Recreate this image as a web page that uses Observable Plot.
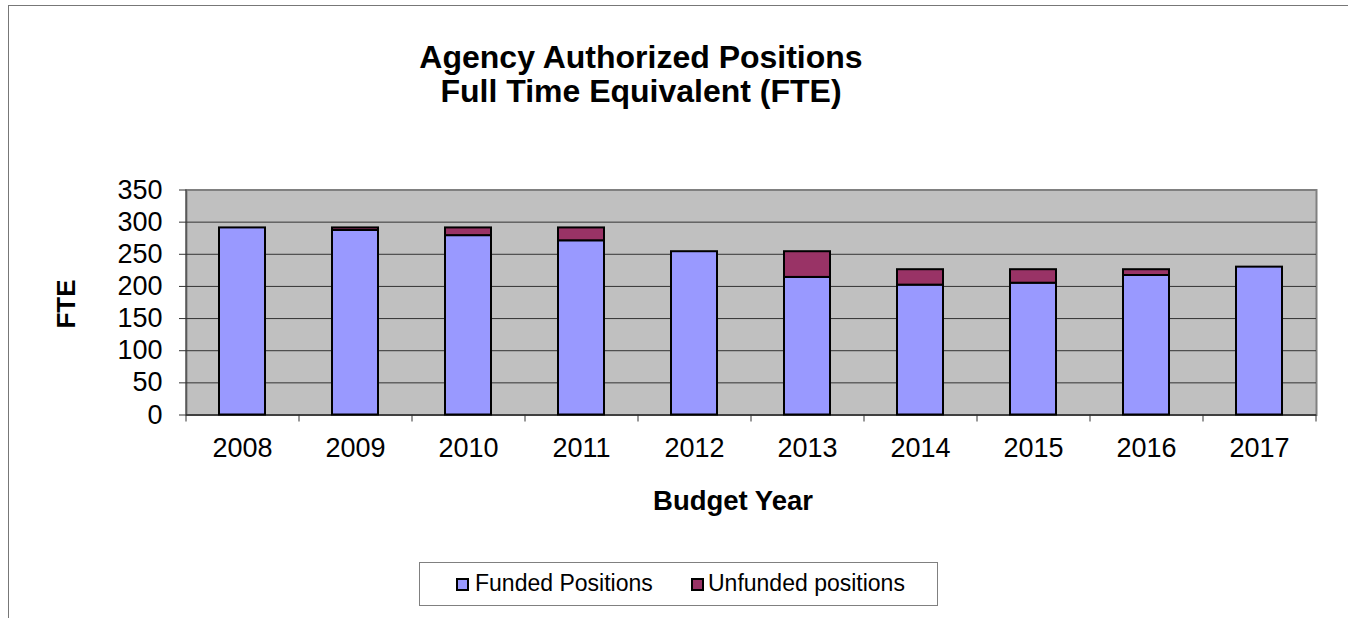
<!DOCTYPE html>
<html>
<head>
<meta charset="utf-8">
<script src="https://cdn.jsdelivr.net/npm/d3@7"></script>
<script src="https://cdn.jsdelivr.net/npm/@observablehq/plot@0.6"></script>
<style>
  html, body { margin: 0; padding: 0; background: #fff; overflow: hidden; }
  #wrap { position: relative; width: 1348px; height: 618px; font-family: "Liberation Sans", Arial, sans-serif; color: #000; }
  #wrap svg { position: absolute; left: 0; top: 0; }
  .t { position: absolute; line-height: 1; white-space: nowrap; }
  .outer { position: absolute; left: 8px; top: 5px; width: 1400px; height: 700px; border-left: 1px solid #777; border-top: 1px solid #777; }
  .legend { position: absolute; left: 419px; top: 562px; width: 517px; height: 42px; border: 1px solid #808080; background: #fff; }
  .sw { position: absolute; width: 13px; height: 13px; box-sizing: border-box; border: 2px solid #000; }
</style>
</head>
<body>
<div id="wrap">
  <div class="outer"></div>
</div>
<script>
const years = ["2008", "2009", "2010", "2011", "2012", "2013", "2014", "2015", "2016", "2017"];
const funded = [291, 287, 279, 271, 254, 214, 202, 205, 217, 230];
const unfunded = [0, 4, 12, 20, 0, 40, 24, 21, 9, 0];
const seriesNames = ["Funded Positions", "Unfunded positions"];
const seriesColors = ["#9999FF", "#993366"];
const yTicks = [0, 50, 100, 150, 200, 250, 300, 350];

const rows = [];
years.forEach((yr, i) => {
  rows.push({year: yr, series: seriesNames[0], value: funded[i]});
  if (unfunded[i] > 0) rows.push({year: yr, series: seriesNames[1], value: unfunded[i]});
});

const W = 1348, H = 618;
const mTop = 189.5, mBottom = 203.5, mLeft = 186, mRight = 32;
const band = (W - mLeft - mRight) / years.length;
const unitsPerPx = 350 / (H - mTop - mBottom);
const tickLen = 7 * unitsPerPx;

const plot = Plot.plot({
  width: W,
  height: H,
  marginTop: mTop,
  marginBottom: mBottom,
  marginLeft: mLeft,
  marginRight: mRight,
  style: {fontFamily: '"Liberation Sans", Arial, sans-serif', fontSize: "27px", color: "#000", background: "transparent"},
  x: {domain: years, paddingInner: 0.59, paddingOuter: 0.295, label: null},
  y: {domain: [0, 350], label: null},
  color: {domain: seriesNames, range: seriesColors},
  marks: [
    Plot.frame({fill: "#C0C0C0", stroke: "#808080", strokeWidth: 2}),
    Plot.gridY(yTicks.filter(d => d > 0 && d < 350), {stroke: "#333", strokeOpacity: 1, strokeWidth: 1}),
    Plot.barY(rows, Plot.stackY({x: "year", y: "value", fill: "series", order: seriesNames, stroke: "#000", strokeWidth: 2})),
    Plot.ruleX([years[0]], {dx: -band / 2, y1: 0, y2: 350, stroke: "#333"}),
    Plot.ruleY([0], {stroke: "#000", strokeWidth: 1}),
    Plot.axisY(yTicks, {tickSize: 7, tickPadding: 17, fontSize: 27, stroke: "#333"}),
    Plot.ruleX(years, {dx: -band / 2, y1: 0, y2: -tickLen, stroke: "#333"}),
    Plot.ruleX([years[years.length - 1]], {dx: band / 2, y1: 0, y2: -tickLen, stroke: "#333"}),
    Plot.axisX({tickSize: 0, tickPadding: 22.5, fontSize: 27})
  ]
});

const wrap = document.getElementById("wrap");
wrap.appendChild(plot);

function addText(txt, x, baseline, fs, opts = {}) {
  const d = document.createElement("div");
  d.className = "t";
  d.textContent = txt;
  d.style.fontSize = fs + "px";
  d.style.fontWeight = opts.bold ? "bold" : "normal";
  d.style.top = (baseline - 0.8465 * fs) + "px";
  d.style.left = x + "px";
  if (opts.center) d.style.transform = "translateX(-50%)";
  wrap.appendChild(d);
  return d;
}

addText("Agency Authorized Positions", 641, 68.3, 32, {bold: true, center: true});
addText("Full Time Equivalent (FTE)", 641, 101.7, 32, {bold: true, center: true});
addText("Budget Year", 733, 510, 27.5, {bold: true, center: true});

const fte = document.createElement("div");
fte.className = "t";
fte.textContent = "FTE";
fte.style.fontSize = "26px";
fte.style.fontWeight = "bold";
fte.style.left = "66.3px";
fte.style.top = "303.8px";
fte.style.transform = "translate(-50%, -50%) rotate(-90deg)";
wrap.appendChild(fte);

const lg = document.createElement("div");
lg.className = "legend";
wrap.appendChild(lg);
const legendItems = [
  {name: seriesNames[0], color: seriesColors[0], sx: 456, tx: 475},
  {name: seriesNames[1], color: seriesColors[1], sx: 691, tx: 708}
];
legendItems.forEach(it => {
  const s = document.createElement("div");
  s.className = "sw";
  s.style.left = it.sx + "px";
  s.style.top = "578px";
  s.style.background = it.color;
  wrap.appendChild(s);
  addText(it.name, it.tx, 591.7, 23);
});
</script>
</body>
</html>
